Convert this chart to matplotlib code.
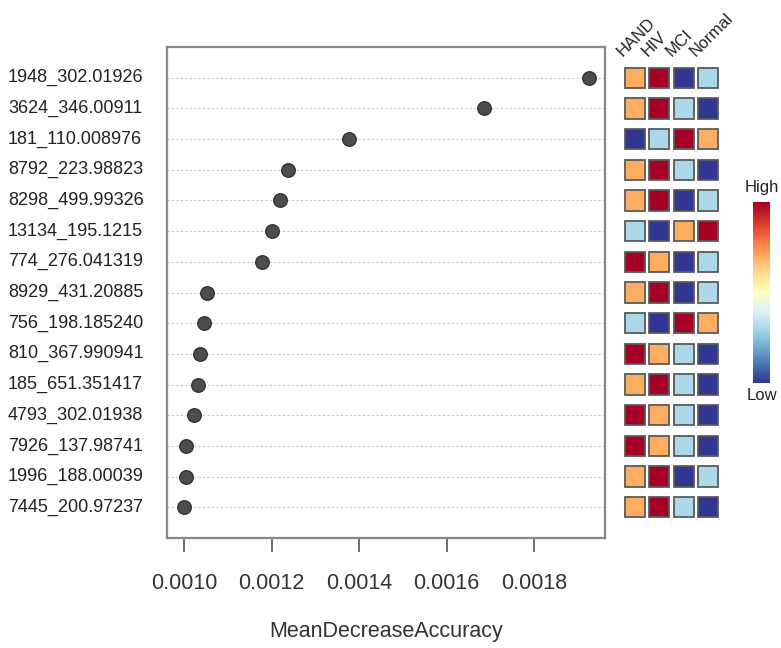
import matplotlib.pyplot as plt
import matplotlib.transforms as mtransforms
import numpy as np

plt.rcParams['font.family'] = ['Liberation Sans', 'DejaVu Sans']

# features ordered top to bottom
features = ['1948_302.01926', '3624_346.00911', '181_110.008976', '8792_223.98823',
            '8298_499.99326', '13134_195.1215', '774_276.041319', '8929_431.20885',
            '756_198.185240', '810_367.990941', '185_651.351417', '4793_302.01938',
            '7926_137.98741', '1996_188.00039', '7445_200.97237']
mda = [0.001926, 0.001686, 0.001377, 0.001238, 0.001220, 0.001201, 0.001178,
       0.001053, 0.001046, 0.001037, 0.001032, 0.001023, 0.001005, 0.001005, 0.001000]

groups = ['HAND', 'HIV', 'MCI', 'Normal']
# relative level per group (4 = highest, 1 = lowest)
HAND = [3, 3, 1, 3, 3, 2, 4, 3, 2, 4, 3, 4, 4, 3, 3]
HIV = [4, 4, 2, 4, 4, 1, 3, 4, 1, 3, 4, 3, 3, 4, 4]
MCI = [1, 2, 4, 2, 1, 3, 1, 1, 4, 2, 2, 2, 2, 1, 2]
Normal = [2, 1, 3, 1, 2, 4, 2, 2, 3, 1, 1, 1, 1, 2, 1]

level_colors = {4: '#A50026', 3: '#FDAE61', 2: '#ABD9E9', 1: '#313695'}

W, H = 781, 648
fig = plt.figure(figsize=(W / 100, H / 100), dpi=100)

def fx(px):
    return px / W

def fy(py):
    return 1 - py / H

# main dot plot
ax = fig.add_axes([fx(167), fy(538), fx(605) - fx(167), fy(47) - fy(538)])
rows = np.arange(1, len(features) + 1)
for r in rows:
    ax.axhline(r, color='#C8C8C8', lw=0.8, ls=(0, (2, 2)), zorder=1)
ax.scatter(mda, rows, s=95, color='#4D4D4D', edgecolors='#333333', linewidths=1.0, zorder=3)
ax.set_xlim(0.000961, 0.001962)
ax.set_ylim(16, 0)
ax.set_yticks([])
ax.set_xticks([0.0010, 0.0012, 0.0014, 0.0016, 0.0018])
ax.set_xticklabels(['0.0010', '0.0012', '0.0014', '0.0016', '0.0018'], fontsize=15.5, color='#333333')
ax.tick_params(axis='x', length=10, width=1.2, color='#555555', pad=15)
for s in ax.spines.values():
    s.set_color('#888888')
    s.set_linewidth(1.6)
ax.set_xlabel('MeanDecreaseAccuracy', fontsize=15.5, color='#333333', labelpad=20)

# feature labels, left-aligned
lab_tr = mtransforms.blended_transform_factory(fig.transFigure, ax.transData)
for r, name in zip(rows, features):
    ax.text(fx(8), r, name, transform=lab_tr, ha='left', va='center',
            fontsize=13, color='#222222')

# heatmap of group levels
hx0, hx1 = 622.85, 720.05
hax = fig.add_axes([fx(hx0), fy(538), fx(hx1) - fx(hx0), fy(47) - fy(538)])
hax.set_xlim(0, 4)
hax.set_ylim(16, 0)
hax.axis('off')
cw, ch = 20 / 24.3, 0.66
for j, vals in enumerate([HAND, HIV, MCI, Normal]):
    for r, v in zip(rows, vals):
        hax.add_patch(plt.Rectangle((j + 0.5 - cw / 2, r - ch / 2), cw, ch,
                                    facecolor=level_colors[v], edgecolor='#5A5A5A', lw=1.3))
for j, g in enumerate(groups):
    fig.text(fx(625 + j * 24.3), fy(59), g, rotation=45, rotation_mode='anchor',
             ha='left', va='bottom', fontsize=12, color='#222222')

# colour key
cax = fig.add_axes([fx(753), fy(383), fx(770) - fx(753), fy(202) - fy(383)])
grad = np.linspace(1, 0, 256).reshape(-1, 1)
cax.imshow(grad, aspect='auto', cmap='RdYlBu_r', extent=[0, 1, 0, 1])
cax.set_xticks([])
cax.set_yticks([])
for s in cax.spines.values():
    s.set_visible(False)
fig.text(fx(761.5), fy(187), 'High', ha='center', va='center', fontsize=12, color='#222222')
fig.text(fx(761.5), fy(396), 'Low', ha='center', va='center', fontsize=12, color='#222222')

fig.savefig('out.png', dpi=100)
